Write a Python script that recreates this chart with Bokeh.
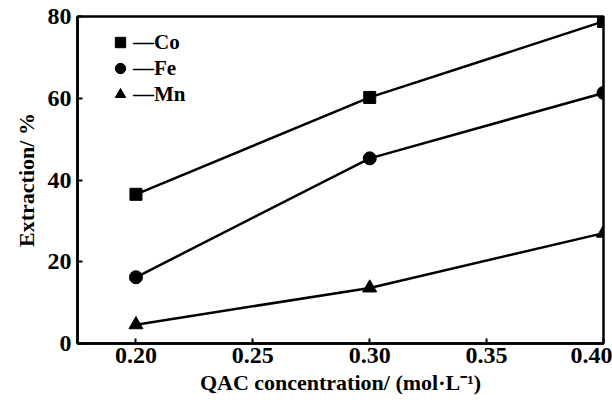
from bokeh.plotting import figure
from bokeh.models import FixedTicker, PrintfTickFormatter, Legend, LegendItem, Range1d
from bokeh.embed import file_html
from bokeh.resources import INLINE

# Data
conc = [0.20, 0.30, 0.40]
co = [36.5, 60.2, 78.8]
fe = [16.2, 45.3, 61.3]
mn = [4.6, 13.6, 27.0]
series_names = ["Co", "Fe", "Mn"]
x_ticks = [0.20, 0.25, 0.30, 0.35, 0.40]
y_ticks = [0, 20, 40, 60, 80]

FONT = "Liberation Serif"

p = figure(width=612, height=403, output_backend="svg", toolbar_location=None,
           x_range=Range1d(0.175, 0.40), y_range=Range1d(0, 80),
           min_border_left=77, min_border_right=9, min_border_top=16, min_border_bottom=60)
p.grid.visible = False
p.background_fill_color = "white"
p.border_fill_color = "white"
p.outline_line_color = "black"
p.outline_line_width = 2.5

lw = 2.5
r_co_l = p.line(conc, co, line_color="black", line_width=lw)
r_co = p.scatter(conc, co, marker="square", size=12, fill_color="black", line_color="black")
r_fe_l = p.line(conc, fe, line_color="black", line_width=lw)
r_fe = p.scatter(conc, fe, marker="circle", size=13, fill_color="black", line_color="black")
r_mn_l = p.line(conc, mn, line_color="black", line_width=lw)
r_mn = p.scatter(conc, mn, marker="triangle", size=14, fill_color="black", line_color="black")

for ax in (p.xaxis[0], p.yaxis[0]):
    ax.axis_line_width = 2.5
    ax.axis_line_color = "black"
    ax.major_tick_in = 5
    ax.major_tick_out = 0
    ax.major_tick_line_width = 2
    ax.minor_tick_line_color = None
    ax.major_label_text_font = FONT
    ax.major_label_text_font_style = "bold"
    ax.major_label_text_font_size = "24px"
    ax.major_label_text_color = "black"
    ax.axis_label_text_font = FONT
    ax.axis_label_text_font_style = "bold"
    ax.axis_label_text_font_size = "22px"
    ax.axis_label_text_color = "black"

p.xaxis.ticker = FixedTicker(ticks=x_ticks)
p.xaxis.formatter = PrintfTickFormatter(format="%.2f")
p.xaxis.major_label_standoff = 4
p.xaxis.axis_label = "QAC concentration/ (mol·L⁻¹)"
p.xaxis.axis_label_standoff = 4

p.yaxis.ticker = FixedTicker(ticks=y_ticks)
p.yaxis.major_label_standoff = 6
p.yaxis.axis_label = "Extraction/ %"
p.yaxis.axis_label_standoff = 6

legend = Legend(items=[
    LegendItem(label="—" + series_names[0], renderers=[r_co]),
    LegendItem(label="—" + series_names[1], renderers=[r_fe]),
    LegendItem(label="—" + series_names[2], renderers=[r_mn]),
], location=(30, 236))
legend.background_fill_alpha = 0
legend.border_line_color = None
legend.padding = 0
legend.margin = 0
legend.spacing = 0
legend.glyph_width = 26
legend.glyph_height = 26
legend.label_height = 26
legend.label_standoff = 0
legend.label_text_font = FONT
legend.label_text_font_style = "bold"
legend.label_text_font_size = "21px"
legend.label_text_color = "black"
p.add_layout(legend)

open("out.html", "w").write(file_html(p, INLINE))
